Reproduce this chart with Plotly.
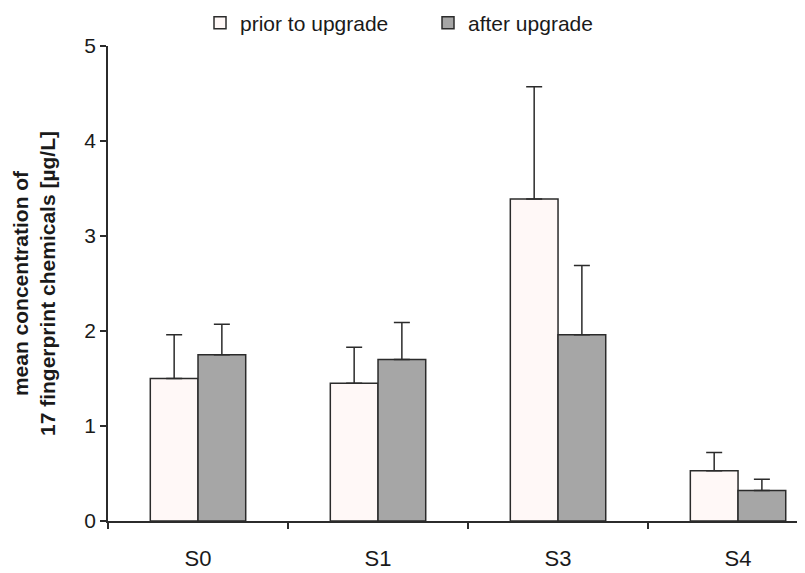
import plotly.graph_objects as go

categories = ["S0", "S1", "S3", "S4"]
prior_vals = [1.50, 1.45, 3.39, 0.53]
prior_err = [0.46, 0.38, 1.18, 0.19]
after_vals = [1.75, 1.70, 1.96, 0.32]
after_err = [0.32, 0.39, 0.73, 0.12]
series_names = ["prior to upgrade", "after upgrade"]
y_ticks = [0, 1, 2, 3, 4, 5]

FONT = "Liberation Sans, Arial, sans-serif"
LINE = "#2b2b2b"

fig = go.Figure()
fig.add_trace(go.Bar(
    x=categories, y=prior_vals, name=series_names[0],
    marker=dict(color="#fff8f7", line=dict(color=LINE, width=1.5)),
    error_y=dict(type="data", array=prior_err, arrayminus=[0]*4, symmetric=False,
                 color=LINE, thickness=1.5, width=8),
))
fig.add_trace(go.Bar(
    x=categories, y=after_vals, name=series_names[1],
    marker=dict(color="#a6a6a6", line=dict(color=LINE, width=1.5)),
    error_y=dict(type="data", array=after_err, arrayminus=[0]*4, symmetric=False,
                 color=LINE, thickness=1.5, width=8),
))

# page body has an 8px default margin; figure size compensates
fig.update_layout(
    width=797, height=565,
    margin=dict(l=100, r=0, t=38, b=52, autoexpand=False),
    paper_bgcolor="white", plot_bgcolor="white",
    barmode="group", bargap=0.47, bargroupgap=0,
    font=dict(family=FONT, size=21, color="#1a1a1a"),
    showlegend=True,
    legend=dict(orientation="h", x=0.132, xanchor="left", y=1.048, yanchor="middle",
                yref="paper", entrywidth=183, font=dict(size=21),
                bgcolor="rgba(0,0,0,0)", traceorder="normal"),
    xaxis=dict(
        type="category", range=[-0.5, 3.372], automargin=False,
        showline=True, linecolor=LINE, linewidth=1.5,
        ticks="outside", tickson="boundaries", ticklen=6, tickcolor=LINE, tickwidth=1.5,
        showgrid=False, zeroline=False, tickfont=dict(size=22), ticklabelstandoff=17,
    ),
    yaxis=dict(
        range=[0, 5], tickvals=y_ticks, automargin=False,
        showline=True, linecolor=LINE, linewidth=1.5,
        ticks="outside", ticklen=6, tickcolor=LINE, tickwidth=1.5,
        showgrid=False, zeroline=False, tickfont=dict(size=21),
        title=dict(text="<b>mean concentration of<br>17 fingerprint chemicals [µg/L]</b>",
                   font=dict(size=21), standoff=23),
    ),
)

fig.write_html("out.html")
